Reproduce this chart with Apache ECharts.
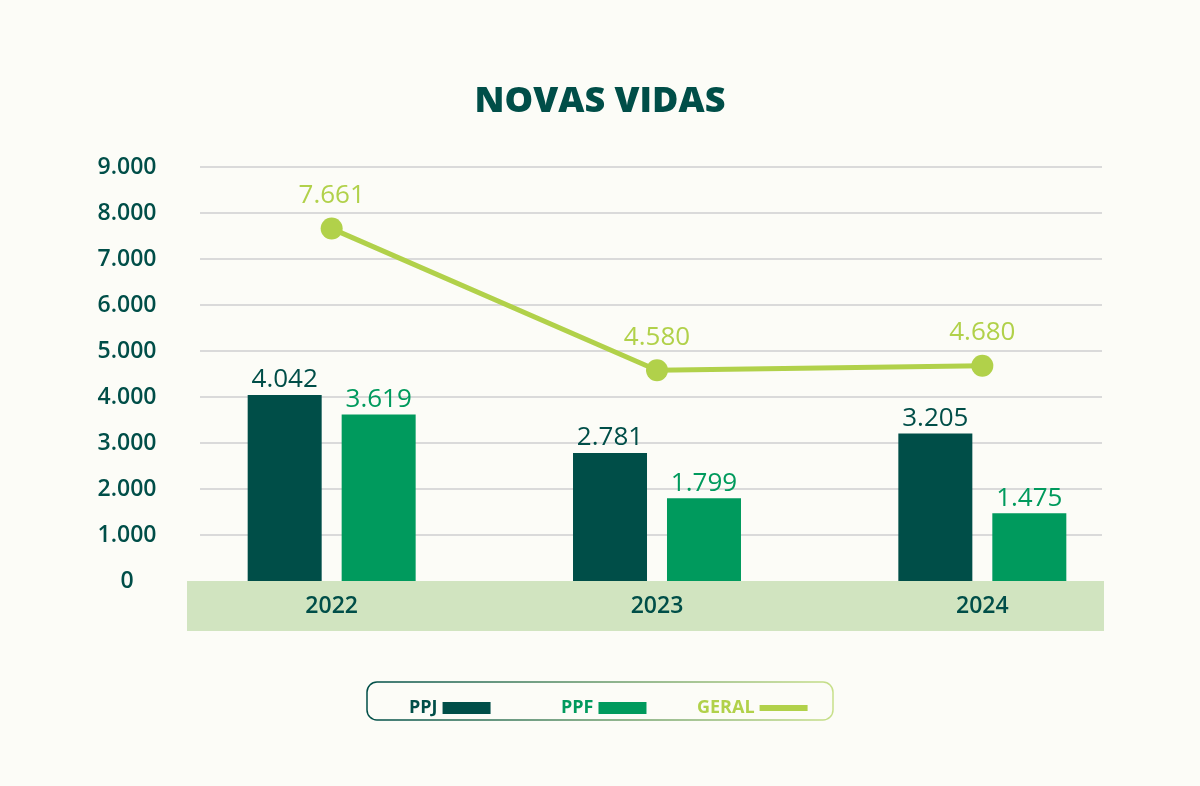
<!DOCTYPE html>
<html>
<head>
<meta charset="utf-8">
<script src="https://cdn.jsdelivr.net/npm/echarts@6/dist/echarts.min.js"></script>
<style>
  html, body { margin: 0; padding: 0; background: #fcfcf7; }
  #chart { width: 1200px; height: 786px; }
</style>
</head>
<body>
<div id="chart"></div>
<script>
// dados
var anos = ['2022', '2023', '2024'];
var ppj = [4042, 2781, 3205];
var ppf = [3619, 1799, 1475];
var geral = [7661, 4580, 4680];

var corPPJ = '#004e48';
var corPPF = '#009a5d';
var corGeral = '#b1d14a';
var fonte = '"Open Sans", sans-serif';

// 4042 -> 4.042
function fmt(v) {
  return String(v).replace(/\B(?=(\d{3})+(?!\d))/g, '.');
}

var myChart = echarts.init(document.getElementById('chart'));

myChart.setOption({
  backgroundColor: '#fcfcf7',
  textStyle: { fontFamily: fonte },
  title: {
    text: 'NOVAS VIDAS',
    left: 'center',
    top: 79,
    textStyle: { fontSize: 36, fontWeight: 800, color: corPPJ, fontFamily: fonte }
  },
  legend: [
    {
      data: ['PPJ'], left: 404, top: 694, align: 'right', icon: 'rect',
      itemWidth: 48, itemHeight: 12,
      textStyle: { fontSize: 18, fontWeight: 700, color: corPPJ }
    },
    {
      data: ['PPF'], left: 556, top: 694, align: 'right', icon: 'rect',
      itemWidth: 48, itemHeight: 12,
      textStyle: { fontSize: 18, fontWeight: 700, color: corPPF }
    },
    {
      data: ['GERAL'], left: 692, top: 694, align: 'right', icon: 'rect',
      itemWidth: 48, itemHeight: 6,
      textStyle: { fontSize: 18, fontWeight: 700, color: corGeral }
    }
  ],
  graphic: [
    // faixa dos anos
    {
      type: 'rect', z: -1,
      shape: { x: 187, y: 581, width: 917, height: 50 },
      style: { fill: '#d1e4c0' }
    },
    // moldura da legenda
    {
      type: 'rect', z: -1,
      shape: { x: 367, y: 682, width: 466, height: 38, r: 10 },
      style: {
        fill: '#fcfcf7',
        lineWidth: 1.5,
        stroke: new echarts.graphic.LinearGradient(0, 0, 1, 0, [
          { offset: 0, color: '#004e48' },
          { offset: 1, color: '#c8e08a' }
        ])
      }
    }
  ],
  grid: [
    // linhas de grade
    { left: 200, right: 98, top: 167, bottom: 205 },
    // barras e linha
    { left: 169, right: 55, top: 167, bottom: 205 }
  ],
  xAxis: [
    { gridIndex: 0, type: 'value', show: false, min: 0, max: 1 },
    {
      gridIndex: 1,
      type: 'category',
      data: anos,
      axisLine: { show: false },
      axisTick: { show: false },
      axisLabel: {
        margin: 14,
        fontSize: 23,
        fontWeight: 600,
        color: corPPJ,
        fontFamily: fonte
      }
    }
  ],
  yAxis: [
    {
      gridIndex: 0,
      type: 'value',
      min: 0,
      max: 9000,
      interval: 1000,
      axisLine: { show: false },
      axisTick: { show: false },
      splitLine: { showMinLine: false, lineStyle: { color: '#dadada', width: 2 } },
      axisLabel: {
        margin: 73,
        align: 'center',
        fontSize: 23,
        fontWeight: 600,
        color: corPPJ,
        fontFamily: fonte,
        formatter: fmt
      }
    },
    { gridIndex: 1, type: 'value', min: 0, max: 9000, show: false }
  ],
  series: [
    {
      name: 'PPJ',
      type: 'bar',
      xAxisIndex: 1,
      yAxisIndex: 1,
      barWidth: 74,
      barGap: '27%',
      itemStyle: { color: corPPJ },
      label: {
        show: true,
        position: 'top',
        distance: 2,
        fontSize: 26,
        fontWeight: 500,
        color: corPPJ,
        fontFamily: fonte,
        formatter: function (p) { return fmt(p.value); }
      },
      data: ppj
    },
    {
      name: 'PPF',
      type: 'bar',
      xAxisIndex: 1,
      yAxisIndex: 1,
      barWidth: 74,
      itemStyle: { color: corPPF },
      label: {
        show: true,
        position: 'top',
        distance: 2,
        fontSize: 26,
        fontWeight: 500,
        color: corPPF,
        fontFamily: fonte,
        formatter: function (p) { return fmt(p.value); }
      },
      data: ppf
    },
    {
      name: 'GERAL',
      type: 'line',
      xAxisIndex: 1,
      yAxisIndex: 1,
      symbol: 'circle',
      symbolSize: 22,
      lineStyle: { color: corGeral, width: 5 },
      itemStyle: { color: corGeral },
      label: {
        show: true,
        position: 'top',
        distance: 9,
        fontSize: 26,
        fontWeight: 500,
        color: corGeral,
        fontFamily: fonte,
        formatter: function (p) { return fmt(p.value); }
      },
      z: 5,
      data: geral
    }
  ]
});
</script>
</body>
</html>
